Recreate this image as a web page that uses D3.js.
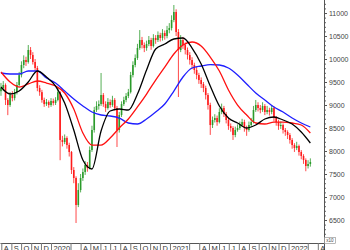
<!DOCTYPE html>
<html>
<head>
<meta charset="utf-8">
<script src="https://cdn.jsdelivr.net/npm/d3@7"></script>
<style>
  body { margin: 0; background: #fff; }
  svg { display: block; }
  text { font-family: "Liberation Sans", Arial, sans-serif; }
</style>
</head>
<body>
<svg id="chart" width="350" height="250"></svg>
<script>
// semanas (segunda-feira da primeira vela)
const primeiraSemana = new Date(2019, 6, 29);

const abertura = [9300,9370,9435,9110,9000,9217,9150,9280,9435,9650,9870,9978,9935,10196,10087,9935,9805,9370,9280,9110,
  9020,9065,9000,9087,9043,9110,9280,8239,8196,8283,8130,7978,7587,7413,6826,7152,7413,7543,7696,7630,
  8022,8457,8891,8978,9020,9217,9020,8935,9065,9000,9110,8935,8457,8783,9020,9110,9196,9280,9652,9870,
  10022,10239,10413,10304,10239,10326,10413,10283,10457,10413,10522,10457,10565,10500,10630,10674,10848,11022,10587,10196,
  10413,10304,10196,10087,9978,9870,9761,9652,9543,9456,9370,9217,9000,8565,8674,8717,8630,8848,8935,8804,
  8674,8543,8500,8348,8457,8500,8565,8630,8500,8457,8565,8630,8891,9000,8935,8891,8978,8848,8891,8848,
  8935,8717,8630,8543,8565,8457,8413,8348,8239,8130,8065,8109,7978,7891,7804,7674,7717];
const maxima = [9480,9520,9470,9150,9280,9300,9350,9500,9720,9950,10080,10050,10304,10260,10150,10000,9850,9430,9330,9160,
  9130,9100,9150,9140,9170,9370,9300,8330,8360,8320,8180,8000,7650,7450,7300,7500,7620,7780,7760,8100,
  8550,8960,9080,9100,9696,9260,9080,9150,9120,9200,9150,8980,8850,9080,9180,9260,9350,9720,9950,10100,
  10330,10630,10480,10360,10400,10500,10460,10540,10520,10600,10570,10650,10620,10720,10780,10950,11174,11080,10650,10520,
  10480,10360,10250,10150,10040,9920,9830,9700,9600,9500,9420,9260,9050,8750,8800,8770,8930,9030,8980,8850,
  8720,8600,8540,8530,8580,8640,8700,8680,8550,8640,8720,8980,9109,9060,9000,9060,9020,8980,8940,9000,
  8970,8760,8680,8640,8600,8500,8450,8390,8280,8170,8200,8140,8020,7930,7840,7800,7840];
const minimas = [9200,9300,9000,8780,8960,9080,9100,9230,9400,9600,9800,9850,9900,10000,9880,9740,9300,9200,9050,8960,
  8980,8940,8960,8990,9000,9080,7800,8100,8150,8050,7880,7500,7300,6435,6780,7100,7350,7480,7550,7600,
  7980,8400,8850,8900,8980,8960,8850,8900,8940,8960,8880,8087,8400,8740,8980,9060,9150,9250,9600,9820,
  9980,10200,10230,10150,10180,10280,10200,10250,10330,10370,10380,10400,10420,10450,10560,10620,10800,10500,9174,10150,
  10220,10100,9990,9880,9780,9680,9560,9460,9370,9280,9120,8900,8350,8500,8620,8550,8600,8800,8740,8600,
  8460,8420,8240,8300,8420,8460,8520,8420,8330,8420,8520,8600,8850,8860,8820,8850,8780,8800,8770,8800,
  8640,8550,8460,8480,8380,8330,8260,8160,8050,7980,8020,7900,7820,7720,7560,7620,7660];
const fechamento = [9370,9435,9110,9000,9217,9150,9280,9435,9650,9870,9978,9935,10196,10087,9935,9805,9370,9280,9110,9020,
  9065,9000,9087,9043,9110,9280,8239,8196,8283,8130,7978,7587,7413,6826,7152,7413,7543,7696,7630,8022,
  8457,8891,8978,9020,9217,9020,8935,9065,9000,9110,8935,8457,8783,9020,9110,9196,9280,9652,9870,10022,
  10239,10413,10304,10239,10326,10413,10283,10457,10413,10522,10457,10565,10500,10630,10674,10848,11022,10587,10196,10413,
  10304,10196,10087,9978,9870,9761,9652,9543,9456,9370,9217,9000,8565,8674,8717,8630,8848,8935,8804,8674,
  8543,8500,8348,8457,8500,8565,8630,8500,8457,8565,8630,8891,9000,8935,8891,8978,8848,8891,8848,8935,
  8717,8630,8543,8565,8457,8413,8348,8239,8130,8065,8109,7978,7891,7804,7674,7717,7761];

// medias moveis, a cada 4 semanas
const semanasMedia = d3.range(0, 137, 4);
const mediaCurta = [9391,9239,9304,9500,9739,9609,9413,9043,8457,7804,7609,8435,8870,8913,8891,9239,9761,10217,10326,10435,
  10457,10239,9891,9413,8978,8717,8609,8500,8565,8696,8739,8674,8587,8413,8174];
const mediaMedia = [9717,9500,9391,9457,9522,9478,9413,9261,8913,8391,8130,8130,8283,8500,8696,8957,9239,9543,9826,10109,
  10304,10370,10283,10043,9739,9326,9000,8783,8609,8587,8630,8630,8609,8565,8391];
const mediaLonga = [9696,9674,9674,9739,9739,9587,9478,9304,9130,8978,8848,8783,8761,8717,8609,8587,8696,8848,9022,9304,
  9609,9804,9848,9880,9870,9804,9652,9457,9261,9109,8957,8848,8717,8609,8522];

const ticksY = d3.range(6500, 11001, 500);
const letrasMes = ["J","F","M","A","M","J","J","A","S","O","N","D"];

const svg = d3.select("#chart");
const larguraPlot = 324;
const alturaPlot = 243;

const x = d3.scaleTime()
  .domain([new Date(2019, 6, 28), new Date(2022, 3, 20)])
  .range([0, larguraPlot]);
const y = d3.scaleLinear()
  .domain([6000, 11283])
  .range([alturaPlot, 0]);

function dataSemana(i) {
  return d3.timeDay.offset(d3.timeWeek.offset(primeiraSemana, i), 2);
}

svg.append("defs").append("clipPath").attr("id", "clip")
  .append("rect").attr("width", larguraPlot).attr("height", alturaPlot);

const plot = svg.append("g").attr("clip-path", "url(#clip)");

// velas
const velas = plot.selectAll("g.vela")
  .data(fechamento.map((c, i) => ({ i, o: abertura[i], h: maxima[i], l: minimas[i], c })))
  .join("g")
  .attr("class", "vela");

const cor = d => d.c >= d.o ? "#2b9b2b" : "#ff1a1a";

velas.append("line")
  .attr("x1", d => x(dataSemana(d.i)))
  .attr("x2", d => x(dataSemana(d.i)))
  .attr("y1", d => y(d.h))
  .attr("y2", d => y(d.l))
  .attr("stroke", cor)
  .attr("stroke-width", 0.8);

velas.append("rect")
  .attr("x", d => x(dataSemana(d.i)) - 0.8)
  .attr("width", 1.6)
  .attr("y", d => y(Math.max(d.o, d.c)))
  .attr("height", d => Math.max(0.8, Math.abs(y(d.o) - y(d.c))))
  .attr("fill", cor);

// linhas das medias
const linha = d3.line()
  .x(d => x(dataSemana(d[0])))
  .y(d => y(d[1]))
  .curve(d3.curveMonotoneX);

[[mediaLonga, "#1f1fff"], [mediaMedia, "#ff1010"], [mediaCurta, "#000000"]].forEach(([serie, c]) => {
  plot.append("path")
    .datum(semanasMedia.map((s, k) => [s, serie[k]]))
    .attr("d", linha)
    .attr("fill", "none")
    .attr("stroke", c)
    .attr("stroke-width", 1.3);
});

// eixo Y a direita: menores a cada 100
svg.append("g")
  .attr("transform", `translate(${larguraPlot},0)`)
  .call(d3.axisRight(y).tickValues(d3.range(6100, 11300, 100)).tickSize(2).tickSizeOuter(0).tickFormat(""))
  .call(g => g.select(".domain").remove())
  .selectAll("line").attr("stroke", "#666");

const eixoY = svg.append("g")
  .attr("transform", `translate(${larguraPlot},0)`)
  .call(d3.axisRight(y).tickValues(ticksY).tickSize(3).tickSizeOuter(0).tickPadding(2).tickFormat(d3.format("d")));
eixoY.select(".domain").attr("d", `M0.5,0V${alturaPlot + 7}`).attr("stroke", "#555");
eixoY.selectAll("line").attr("stroke", "#555");
eixoY.selectAll("text").attr("font-size", 7).attr("fill", "#444").attr("font-family", "Liberation Sans, Arial, sans-serif");

// eixo X: separadores de mes
const meses = d3.timeMonth.range(new Date(2019, 7, 1), new Date(2022, 4, 1))
  .filter(m => m.getMonth() != 1);

const eixoX = svg.append("g")
  .attr("transform", `translate(0,${alturaPlot})`)
  .call(d3.axisBottom(x).tickValues(meses).tickSize(7).tickSizeOuter(0)
    .tickFormat(m => m.getMonth() == 0 ? m.getFullYear() : (m.getMonth() == 2 ? "" : letrasMes[m.getMonth()])));
eixoX.select(".domain").attr("stroke", "#555");
eixoX.selectAll("line").attr("stroke", "#777");
eixoX.selectAll("text")
  .attr("text-anchor", "start")
  .attr("x", 2)
  .attr("y", 2.5)
  .attr("font-size", 7.5)
  .attr("fill", "#333")
  .attr("font-family", "Liberation Sans, Arial, sans-serif");

// caixinha do multiplicador
svg.append("rect")
  .attr("x", larguraPlot + 0.5).attr("y", 237.5)
  .attr("width", 11).attr("height", 6)
  .attr("fill", "#fff").attr("stroke", "#888").attr("stroke-width", 0.6);
svg.append("text")
  .attr("x", larguraPlot + 6).attr("y", 242.3)
  .attr("text-anchor", "middle")
  .attr("font-size", 4.5).attr("fill", "#444")
  .text("x10");
</script>
</body>
</html>
